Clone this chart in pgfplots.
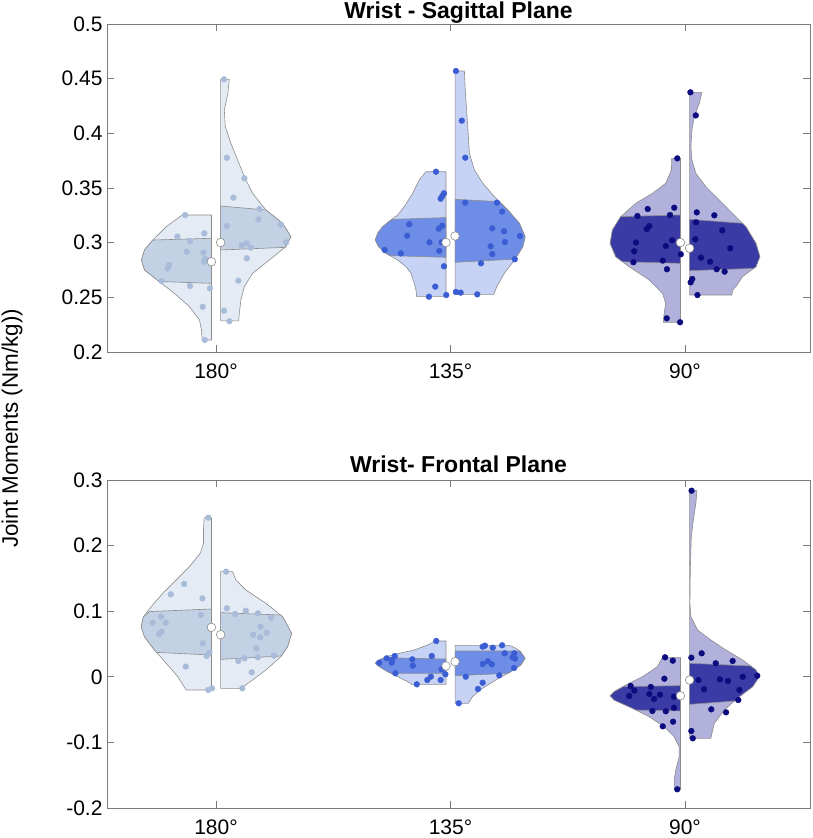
\documentclass[border=0pt]{standalone}
\usepackage{fontspec}
\setmainfont{Liberation Sans}
\usepackage{pgfplots}
\pgfplotsset{compat=1.18}
\definecolor{vgray}{HTML}{8C8C8C}
\definecolor{axgray}{HTML}{7A7A7A}
\definecolor{aL}{HTML}{E5EBF4}\definecolor{aB}{HTML}{C3D1E5}\definecolor{aD}{HTML}{A8BBD8}
\definecolor{bL}{HTML}{C7D3F5}\definecolor{bB}{HTML}{6E8DE6}\definecolor{bD}{HTML}{3B5DD3}
\definecolor{cL}{HTML}{B1B1DC}\definecolor{cB}{HTML}{3B3BA5}\definecolor{cD}{HTML}{0C0C80}
\pgfplotsset{
  table/Lh/.style={x expr={#1-0.0195-\thisrow{w}/234.5}, y=y},
  table/Rh/.style={x expr={#1+0.0195+\thisrow{w}/234.5}, y=y},
  vio/.style={fill=#1, draw=vgray, line width=0.6pt},
  dots/.style={only marks, mark=*, mark size=2.9pt, color=#1},
  med/.style={only marks, mark=*, mark size=4.3pt, mark options={fill=white, draw=vgray, line width=0.6pt}},
  myax/.style={scale only axis, width=703pt, height=328pt, anchor=south west,
    xmin=0.535, xmax=3.533, xtick={1,2,3}, xticklabels={180°,135°,90°},
    axis line style={axgray, line width=0.8pt}, major tick style={axgray, line width=0.8pt},
    major tick length=7pt, ticklabel style={font=\fontsize{21}{25}\selectfont},
    /pgf/number format/assume math mode=true, xticklabel style={yshift=-8pt},
    yticklabel style={xshift=-1pt},
    clip=false}
}
\begin{document}
\begin{tikzpicture}
\useasboundingbox (0,0) rectangle (813pt,838pt);
% ================= TOP: Sagittal =================
\begin{axis}[myax, at={(107pt,486pt)}, ymin=0.2, ymax=0.5, ytick={0.2,0.25,0.3,0.35,0.4,0.45,0.5}]
% ---- 180 ----
\addplot[vio=aL] table[Lh=1] {
y w
0.3253 0
0.3253 29.3
0.3146 45.3
0.3024 58.7
0.2933 67
0.2841 70
0.2750 67
0.2643 52
0.2536 37
0.2414 22
0.2293 12
0.2201 10
0.2110 9.3
0.2110 0
0.3253 0
};
\addplot[vio=aB] table[Lh=1] {
y w
0.3040 0
0.3024 58.7
0.2933 67
0.2841 70
0.2750 67
0.2645 52.3
0.2628 0
0.3040 0
};
\addplot[vio=aL] table[Rh=1] {
y w
0.4494 0
0.4494 8.7
0.4366 7.3
0.4213 3.7
0.4061 4.7
0.3909 10.3
0.3756 17
0.3604 23.7
0.3451 32
0.3299 45.3
0.3177 62
0.3055 70.3
0.2963 65.3
0.2841 48.7
0.2720 32
0.2598 23.7
0.2476 20.3
0.2354 18.7
0.2284 18
0.2284 0
0.4494 0
};
\addplot[vio=aB] table[Rh=1] {
y w
0.3335 0
0.3299 45.3
0.3177 62
0.3055 70.3
0.2957 64.5
0.2933 0
0.3335 0
};
\addplot[dots=aD] table {
x y
0.868 0.3253
0.835 0.3055
0.889 0.3015
0.950 0.3085
0.875 0.2918
0.946 0.2909
0.953 0.2851
0.949 0.2826
0.800 0.2796
0.794 0.2765
0.768 0.2649
0.889 0.2604
0.974 0.2582
0.943 0.2414
0.952 0.2110
};
\addplot[dots=aD] table {
x y
1.034 0.4494
1.046 0.3777
1.121 0.3589
1.074 0.3412
1.185 0.3308
1.181 0.3213
1.046 0.3152
1.276 0.3165
1.299 0.3003
1.110 0.2976
1.131 0.2994
1.148 0.2954
1.131 0.2857
1.095 0.2653
1.034 0.2378
1.057 0.2281
};
% ---- 135 ----
\addplot[vio=bL] table[Lh=2] {
y w
0.3649 0
0.3649 20
0.3573 26.7
0.3451 33.3
0.3329 41.7
0.3253 48.3
0.3207 55
0.3146 63.3
0.3085 68.3
0.3024 70.7
0.2963 67.3
0.2902 60
0.2841 48.3
0.2780 40
0.2720 35
0.2628 31.7
0.2567 30
0.2506 29.3
0.2506 0
0.3649 0
};
\addplot[vio=bB] table[Lh=2] {
y w
0.3229 0
0.3213 54.3
0.3146 63.3
0.3085 68.3
0.3024 70.7
0.2963 67.3
0.2902 60
0.2881 56
0.2866 0
0.3229 0
};
\addplot[vio=bL] table[Rh=2] {
y w
0.4570 0
0.4570 9.3
0.4366 10.3
0.4061 12.7
0.3817 14.3
0.3665 19.3
0.3543 27.7
0.3421 39.3
0.3299 52.7
0.3177 64.3
0.3055 70
0.2963 67.7
0.2841 59.3
0.2720 49.3
0.2598 41.7
0.2527 38.7
0.2527 0
0.4570 0
};
\addplot[vio=bB] table[Rh=2] {
y w
0.3396 0
0.3375 44.4
0.3299 52.7
0.3177 64.3
0.3055 70
0.2963 67.7
0.2850 60
0.2820 0
0.3396 0
};
\addplot[dots=bD] table {
x y
1.938 0.3649
1.972 0.3451
1.965 0.3427
1.958 0.3402
1.824 0.3168
1.965 0.3155
1.950 0.3128
1.815 0.3064
1.910 0.3003
1.962 0.3003
1.952 0.2924
1.719 0.2933
1.788 0.2902
1.972 0.2784
1.935 0.2598
1.908 0.2506
1.982 0.2521
};
\addplot[dots=bD] table {
x y
2.023 0.4570
2.048 0.4116
2.063 0.3777
2.063 0.3366
2.198 0.3366
2.220 0.3284
2.178 0.3131
2.228 0.3104
2.296 0.3061
2.232 0.3006
2.171 0.2967
2.178 0.2896
2.130 0.2811
2.274 0.2848
2.023 0.2549
2.043 0.2543
2.114 0.2527
};
% ---- 90 ----
\addplot[vio=cL] table[Lh=3] {
y w
0.3771 0
0.3771 8.7
0.3665 9
0.3543 14.7
0.3451 28
0.3360 44.7
0.3238 59.7
0.3116 68
0.2994 70.3
0.2872 64.7
0.2780 51.3
0.2659 31.3
0.2537 18
0.2445 14.7
0.2354 16.3
0.2272 17
0.2272 0
0.3771 0
};
\addplot[vio=cB] table[Lh=3] {
y w
0.3253 0
0.3238 59.7
0.3116 68
0.2994 70.3
0.2872 64.7
0.2826 58
0.2811 0
0.3253 0
};
\addplot[vio=cL] table[Rh=3] {
y w
0.4375 0
0.4375 12.3
0.4274 9.7
0.4152 4.7
0.4030 2.3
0.3878 1.3
0.3756 2.3
0.3634 6.3
0.3512 16.3
0.3390 29.7
0.3268 43
0.3146 56.3
0.2994 66.3
0.2872 70.3
0.2780 66.3
0.2689 53
0.2598 46.3
0.2567 43
0.2521 42.3
0.2521 0
0.4375 0
};
\addplot[vio=cB] table[Rh=3] {
y w
0.3213 0
0.3177 52.9
0.3146 56.3
0.2994 66.3
0.2872 70.3
0.2780 66.3
0.2765 64
0.2744 0
0.3213 0
};
\addplot[dots=cD] table {
x y
2.967 0.3771
2.841 0.3308
2.954 0.3320
2.936 0.3253
2.797 0.3244
2.848 0.3152
2.837 0.3125
2.945 0.3022
2.791 0.3001
2.918 0.2970
2.783 0.2921
2.982 0.2894
2.780 0.2821
2.905 0.2836
2.923 0.2757
2.922 0.2308
2.979 0.2272
};
\addplot[dots=cD] table {
x y
3.023 0.4375
3.046 0.4164
3.050 0.3277
3.125 0.3250
3.047 0.3186
3.159 0.3113
3.044 0.3031
3.193 0.2949
3.068 0.2863
3.107 0.2826
3.135 0.2757
3.169 0.2735
3.031 0.2668
3.024 0.2637
3.053 0.2521
};
\addplot[med] coordinates {(0.9805,0.2826) (1.0195,0.3001) (1.9805,0.3001) (2.0195,0.3061) (2.9805,0.3001) (3.0195,0.2949)};
\end{axis}
% ================= BOTTOM: Frontal =================
\begin{axis}[myax, at={(107pt,30pt)}, ymin=-0.2, ymax=0.3, ytick={-0.2,-0.1,0,0.1,0.2,0.3}]
% ---- 180 ----
\addplot[vio=aL] table[Lh=1] {
y w
0.2426 0
0.2426 7.3
0.2238 8
0.2035 8
0.1883 11.3
0.1679 22
0.1476 35.3
0.1273 48.7
0.1069 60.3
0.0916 68
0.0764 70.3
0.0611 67
0.0409 57
0.0206 45.3
0.0002 33.7
-0.0201 25.3
-0.0201 0
0.2426 0
};
\addplot[vio=aB] table[Lh=1] {
y w
0.1034 0
0.0994 62
0.0916 68
0.0764 70.3
0.0611 67
0.0409 57
0.0372 55
0.0332 0
0.1034 0
};
\addplot[vio=aL] table[Rh=1] {
y w
0.1603 0
0.1603 12
0.1476 15.3
0.1323 25.3
0.1120 45.3
0.0916 62
0.0663 71
0.0459 67
0.0307 60.3
0.0104 45.3
-0.0049 32
-0.0176 20.3
-0.0176 0
0.1603 0
};
\addplot[vio=aB] table[Rh=1] {
y w
0.0978 0
0.0942 60
0.0916 62
0.0663 71
0.0459 67
0.0317 60.7
0.0266 0
0.0978 0
};
\addplot[dots=aD] table {
x y
0.967 0.2426
0.864 0.1415
0.807 0.1257
0.942 0.1196
0.765 0.0916
0.730 0.0825
0.785 0.0825
0.935 0.0942
0.768 0.0688
0.758 0.0652
0.943 0.0510
0.972 0.0368
0.960 0.0317
0.871 0.0155
0.967 -0.0201
0.983 -0.0176
};
\addplot[dots=aD] table {
x y
1.043 0.1603
1.046 0.1044
1.081 0.0957
1.127 0.1008
1.179 0.0968
1.235 0.0901
1.190 0.0764
1.216 0.0673
1.158 0.0642
1.189 0.0602
1.172 0.0434
1.247 0.0322
1.178 0.0297
1.121 0.0282
1.095 0.0241
1.152 0.0068
1.112 -0.0176
};
% ---- 135 ----
\addplot[vio=bL] table[Lh=2] {
y w
0.0546 0
0.0546 10
0.0485 18.3
0.0409 31.7
0.0358 46.7
0.0307 60
0.0256 66.7
0.0206 70.7
0.0155 66.7
0.0078 58.3
0.0002 48.3
-0.0075 38.3
-0.0115 34
-0.0115 0
0.0546 0
};
\addplot[vio=bB] table[Lh=2] {
y w
0.0271 0
0.0292 62
0.0256 66.7
0.0206 70.7
0.0155 66.7
0.0078 58.3
0.0053 55
0.0053 0
0.0271 0
};
\addplot[vio=bL] table[Rh=2] {
y w
0.0480 0
0.0480 54
0.0450 59
0.0383 65.7
0.0282 70
0.0180 65.7
0.0078 55.7
-0.0049 40.7
-0.0176 27.3
-0.0303 17.3
-0.0404 13.3
-0.0404 0
0.0480 0
};
\addplot[vio=bB] table[Rh=2] {
y w
0.0393 0
0.0393 64.5
0.0282 70
0.0180 65.7
0.0078 55.7
0.0053 52.7
0.0017 0
0.0393 0
};
\addplot[dots=bD] table {
x y
1.939 0.0546
1.762 0.0317
1.728 0.0282
1.751 0.0256
1.749 0.0215
1.696 0.0215
1.837 0.0266
1.839 0.0170
1.920 0.0317
1.962 0.0114
1.978 0.0038
1.765 0.0053
1.916 0.0002
1.901 -0.0049
1.958 -0.0049
1.856 -0.0115
};
\addplot[dots=bD] table {
x y
2.035 -0.0404
2.137 0.0459
2.147 0.0475
2.180 0.0444
2.220 0.0480
2.231 0.0358
2.265 0.0297
2.275 0.0276
2.272 0.0358
2.137 0.0195
2.159 0.0236
2.176 0.0190
2.065 0.0002
2.208 0.0023
2.271 0.0134
2.137 -0.0090
2.117 -0.0186
};
% ---- 90 ----
\addplot[vio=cL] table[Lh=3] {
y w
0.0297 0
0.0297 18
0.0155 23
0.0002 38
-0.0125 54.7
-0.0227 66.3
-0.0288 70.3
-0.0354 66.3
-0.0480 48
-0.0608 31.3
-0.0761 16.3
-0.0913 6.3
-0.1065 1.3
-0.1218 1.3
-0.1421 4.7
-0.1573 6.3
-0.1715 6.3
-0.1715 0
0.0297 0
};
\addplot[vio=cB] table[Lh=3] {
y w
-0.0135 0
-0.0150 57
-0.0227 66.3
-0.0288 70.3
-0.0354 66.3
-0.0480 48
-0.0506 44.5
-0.0521 0
-0.0135 0
};
\addplot[vio=cL] table[Rh=3] {
y w
0.2837 0
0.2837 7.3
0.2645 6.3
0.2390 3.7
0.2136 1.7
0.1628 0.7
0.1120 0.3
0.0916 1.3
0.0713 8
0.0561 21.3
0.0409 36.3
0.0256 53
0.0104 66.3
0.0002 69.7
-0.0151 63
-0.0303 49.7
-0.0506 34.7
-0.0709 24.7
-0.0862 22.3
-0.0938 21.3
-0.0938 0
0.2837 0
};
\addplot[vio=cB] table[Rh=3] {
y w
0.0206 0
0.0165 61
0.0104 66.3
0.0002 69.7
-0.0151 63
-0.0303 49.7
-0.0369 44.8
-0.0420 0
0.0206 0
};
\addplot[dots=cD] table {
x y
2.915 0.0297
2.948 0.0246
2.912 -0.0029
2.768 -0.0140
2.784 -0.0212
2.854 -0.0155
2.848 -0.0262
2.868 -0.0338
2.893 -0.0273
2.762 -0.0293
2.953 -0.0303
2.861 -0.0521
2.918 -0.0526
2.953 -0.0471
2.905 -0.0755
2.949 -0.0684
2.967 -0.1715
};
\addplot[dots=cD] table {
x y
3.028 0.2837
3.027 0.0292
3.071 0.0358
3.131 0.0206
3.203 0.0241
3.057 -0.0049
3.081 -0.0191
3.149 -0.0039
3.183 -0.0064
3.246 0.0000
3.308 0.0017
3.232 -0.0201
3.227 -0.0354
3.112 -0.0496
3.175 -0.0542
3.027 -0.0826
3.033 -0.0938
};
\addplot[med] coordinates {(0.9805,0.0754) (1.0195,0.0642) (1.9805,0.0165) (2.0195,0.0230) (2.9805,-0.0288) (3.0195,-0.0049)};
\end{axis}
\node[anchor=base, font=\fontsize{23}{27}\selectfont\bfseries] at (458.5pt,819.7pt) {Wrist - Sagittal Plane};
\node[anchor=base, font=\fontsize{23}{27}\selectfont\bfseries] at (458.5pt,365pt) {Wrist- Frontal Plane};
\node[rotate=90, font=\fontsize{22.4}{27}\selectfont] at (12pt,409.5pt) {Joint Moments (Nm/kg))};
\end{tikzpicture}
\end{document}
